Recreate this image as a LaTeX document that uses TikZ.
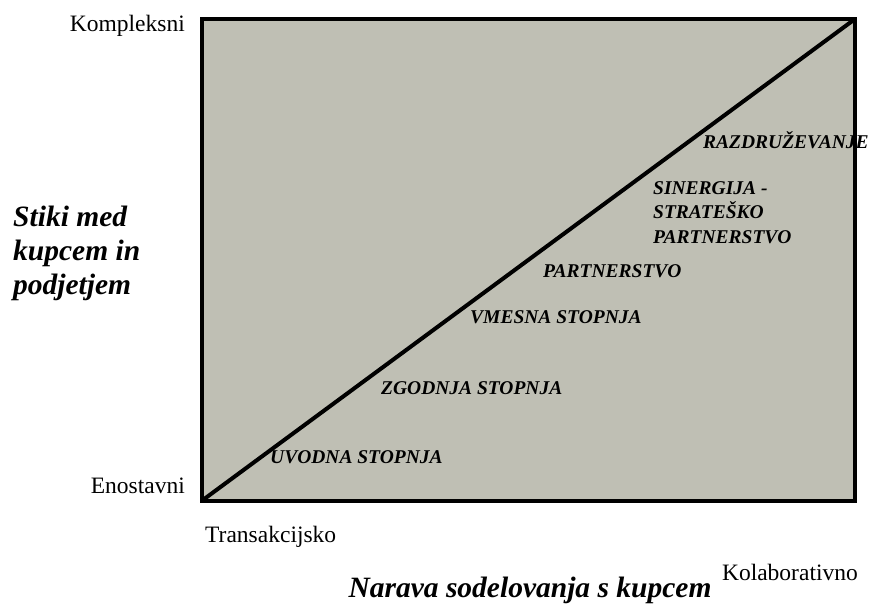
\documentclass[tikz,border=0pt]{standalone}
\usepackage{fontspec}
\setmainfont{Liberation Serif}
\begin{document}
\definecolor{panel}{RGB}{191,191,180}
\begin{tikzpicture}[x=1pt,y=-1pt,
  axislbl/.style={inner sep=0pt, font=\fontsize{23.5}{26}\selectfont},
  titlelbl/.style={inner sep=0pt, font=\fontsize{29.5}{34}\selectfont\bfseries\itshape, align=left},
  stagelbl/.style={inner sep=0pt, font=\fontsize{19.5}{24.5}\selectfont\bfseries\itshape, align=left}]
\useasboundingbox (0,0) rectangle (871,608);
% panel with the growth diagonal
\draw[line width=4pt, fill=panel] (201.5,19) rectangle (855,501);
\coordinate (lo) at (201.5,501);
\coordinate (hi) at (855,19);
\draw[line width=4pt] (lo) -- (hi);
% vertical axis
\node[axislbl, anchor=base east] (kompl) at (185,31) {Kompleksni};
\node[axislbl, anchor=base east] (enost) at (185,493) {Enostavni};
\node[titlelbl, anchor=north west] (stiki) at (13,206) {Stiki med\\kupcem in\\podjetjem};
% horizontal axis
\node[axislbl, anchor=base west] (trans) at (205,542) {Transakcijsko};
\node[axislbl, anchor=base east] (kolab) at (858,580) {Kolaborativno};
\node[titlelbl, anchor=base] (narava) at (530,597) {Narava sodelovanja s kupcem};
% stages
\node[stagelbl, anchor=base west] (s1) at (270,463) {UVODNA STOPNJA};
\node[stagelbl, anchor=base west] (s2) at (381,394) {ZGODNJA STOPNJA};
\node[stagelbl, anchor=base west] (s3) at (470,323) {VMESNA STOPNJA};
\node[stagelbl, anchor=base west] (s4) at (543,277) {PARTNERSTVO};
\node[stagelbl, anchor=north west] (s5) at (653,181) {SINERGIJA -\\STRATEŠKO\\PARTNERSTVO};
\node[stagelbl, anchor=base west] (s6) at (703,148) {RAZDRUŽEVANJE};
\end{tikzpicture}
\end{document}
